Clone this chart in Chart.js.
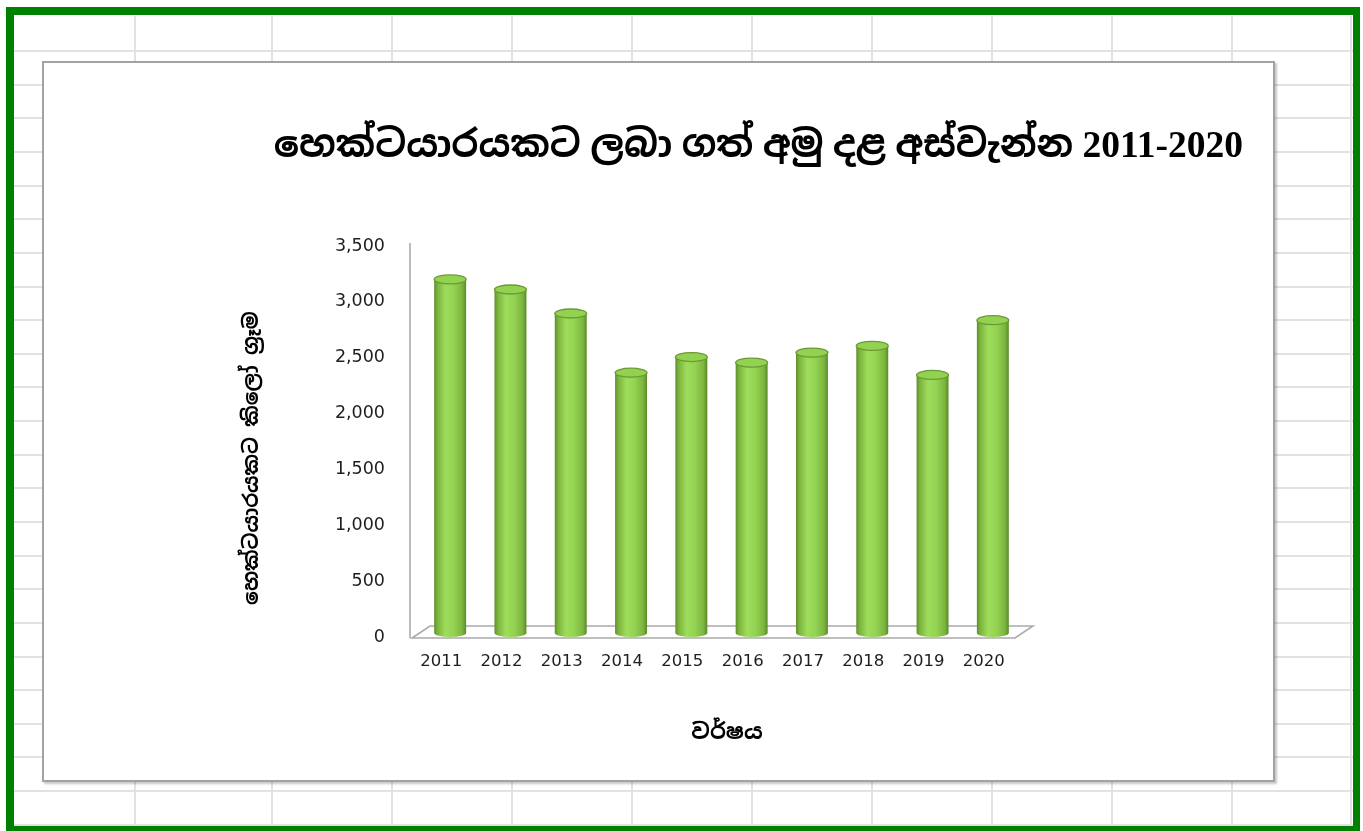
<!DOCTYPE html>
<html><head><meta charset="utf-8">
<script src="https://cdn.jsdelivr.net/npm/chart.js@4.4.1/dist/chart.umd.min.js"></script>
<style>
html,body{margin:0;padding:0;width:1363px;height:831px;overflow:hidden;background:#fff;}
.h{position:absolute;left:14px;width:1340px;height:2px;background:#e2e2e2;}
.v{position:absolute;top:16px;height:815px;width:2px;background:#e2e2e2;}
#frame{position:absolute;left:6px;top:7px;width:1339px;height:811px;border:8px solid #008000;border-right-width:7px;box-sizing:content-box;}
#box{position:absolute;left:42px;top:61px;width:1229px;height:717px;border:2px solid #a3a3a3;background:#fff;box-shadow:2px 2px 2px rgba(0,0,0,0.22);}
#wrap{position:absolute;left:42px;top:61px;width:1233px;height:721px;}
</style>
</head>
<body>
<div id="grid"></div>
<div id="frame"></div>
<div id="box"></div>
<div id="wrap"><canvas id="c" width="1233" height="721"></canvas></div>
<script>
// ---- data ----
const years = ['2011','2012','2013','2014','2015','2016','2017','2018','2019','2020'];
const yieldKgPerHa = [3165, 3075, 2860, 2330, 2470, 2420, 2510, 2570, 2310, 2800];
const chartTitle = 'හෙක්ටයාරයකට ලබා ගත් අමු දළ අස්වැන්න 2011-2020';
const xTitle = 'වර්ෂය';
const yTitle = 'හෙක්ටයාරයකට කිලෝ ග්‍රෑම';

// ---- spreadsheet background ----
(function(){
  const g = document.getElementById('grid');
  for (let k = 0; k < 24; k++) {
    const d = document.createElement('div'); d.className = 'h';
    d.style.top = (50 + k * 33.64).toFixed(1) + 'px'; g.appendChild(d);
  }
  const xs = [134, 271, 391, 511, 631, 751, 871, 991, 1111, 1231, 1350];
  xs.forEach(x => { const d = document.createElement('div'); d.className = 'v'; d.style.left = x + 'px'; g.appendChild(d); });
})();

const SIN = '"Noto Sans Sinhala","Noto Serif Sinhala",serif';
const TITLE_FONT = '"Liberation Serif","Noto Sans Sinhala",serif';
const BAR_PCT = 0.53;
const NB = '\u00A0';

function barFill(c) {
  const ch = c.chart, a = ch.chartArea, xs = ch.scales.x;
  if (!a || !xs) return '#92d050';
  const cx = xs.getPixelForValue(c.dataIndex);
  const w = (a.right - a.left) / years.length * BAR_PCT;
  const g = ch.ctx.createLinearGradient(cx - w / 2, 0, cx + w / 2, 0);
  g.addColorStop(0, '#5e8e2b');
  g.addColorStop(0.1, '#7bb33d');
  g.addColorStop(0.35, '#9edc5b');
  g.addColorStop(0.6, '#95d453');
  g.addColorStop(0.88, '#7cb53f');
  g.addColorStop(1, '#5a8a28');
  return g;
}

const deco = {
  id: 'deco',
  beforeDatasetsDraw(ch) {
    const ctx = ch.ctx, a = ch.chartArea;
    ctx.save();
    ctx.strokeStyle = '#ababab'; ctx.lineWidth = 1.6; ctx.fillStyle = '#fff';
    ctx.beginPath();
    ctx.moveTo(a.left - 8, a.bottom + 5);
    ctx.lineTo(a.left + 10, a.bottom - 7);
    ctx.lineTo(a.right + 10, a.bottom - 7);
    ctx.lineTo(a.right - 8, a.bottom + 5);
    ctx.closePath(); ctx.fill(); ctx.stroke();
    ctx.beginPath();
    ctx.moveTo(a.left - 10, a.top + 1);
    ctx.lineTo(a.left - 10, a.bottom + 5);
    ctx.stroke();
    ctx.restore();
  },
  afterDatasetsDraw(ch) {
    const ctx = ch.ctx;
    const meta = ch.getDatasetMeta(0);
    meta.data.forEach((el) => {
      const w = el.width, x = el.x;
      ctx.save();
      ctx.beginPath();
      ctx.ellipse(x, el.base, w / 2, 4, 0, 0, Math.PI);
      ctx.fillStyle = el.options.backgroundColor;
      ctx.fill();
      ctx.beginPath();
      ctx.ellipse(x, el.y, w / 2, 4.5, 0, 0, Math.PI * 2);
      ctx.fillStyle = '#93d150';
      ctx.fill();
      ctx.strokeStyle = '#6a9a34'; ctx.lineWidth = 1.3;
      ctx.stroke();
      ctx.restore();
    });
  }
};

new Chart(document.getElementById('c'), {
  type: 'bar',
  data: {
    labels: years,
    datasets: [{
      data: yieldKgPerHa,
      backgroundColor: barFill,
      borderWidth: 0,
      barPercentage: BAR_PCT,
      categoryPercentage: 1
    }]
  },
  options: {
    responsive: false,
    animation: false,
    layout: { padding: { left: 0, right: 32, top: 0, bottom: 0 } },
    plugins: {
      legend: { display: false },
      tooltip: { enabled: false },
      title: {
        display: true, text: chartTitle, align: 'end', color: '#000',
        font: { family: TITLE_FONT, size: 37.5, weight: 'bold', lineHeight: 1.2 },
        padding: { top: 64, bottom: 72 }
      }
    },
    scales: {
      x: {
        grid: { display: false, drawTicks: false },
        border: { display: false },
        ticks: { color: '#1e1e1e', font: { family: 'DejaVu Sans', size: 16.5 }, padding: 19, labelOffset: -9, maxRotation: 0, autoSkip: false },
        title: { display: true, text: NB + xTitle, color: '#000', font: { family: SIN, size: 22, weight: 'bold', lineHeight: 1.2 }, padding: { top: 0, bottom: 36 } },
        afterFit(s) { s.height = 149; }
      },
      y: {
        min: 0, max: 3500,
        grid: { display: false, drawTicks: false },
        border: { display: false },
        ticks: { stepSize: 500, padding: 35, labelOffset: 4, color: '#1e1e1e', font: { family: 'DejaVu Sans', size: 17.5 } },
        title: { display: true, text: yTitle + NB.repeat(4), color: '#000', font: { family: SIN, size: 20.5, weight: 'bold', lineHeight: 1.2 }, padding: { top: 198, bottom: 0 } },
        afterFit(s) { s.width = 378; }
      },
      y2: {
        position: 'right',
        grid: { display: false, drawTicks: false },
        border: { display: false },
        ticks: { display: false },
        afterFit(s) { s.width = 220; }
      }
    }
  },
  plugins: [deco]
});
</script>
</body></html>
